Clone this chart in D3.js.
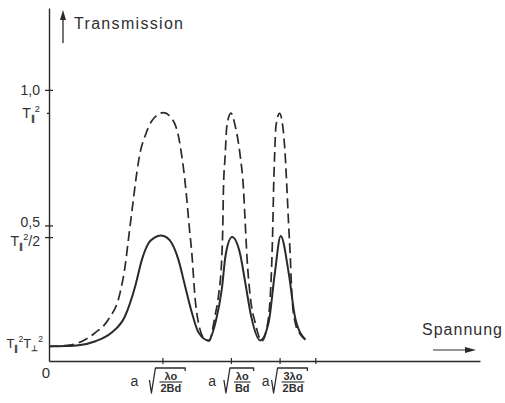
<!DOCTYPE html>
<html>
<head>
<meta charset="utf-8">
<script src="https://cdn.jsdelivr.net/npm/d3@7"></script>
<style>
  html, body { margin: 0; padding: 0; background: #fff; }
  svg { display: block; }
  text { font-family: "Liberation Sans", Arial, sans-serif; fill: #303030; }
</style>
</head>
<body>
<svg id="chart" width="505" height="403"></svg>
<script>
// Voltage in units of a·sqrt(λo/2Bd); transmission as a fraction of the incident light.
const solidVoltage = [0, 0.14, 0.26, 0.41, 0.55, 0.67, 0.76, 0.82, 0.88, 0.93, 0.985, 1.04, 1.08, 1.14, 1.20, 1.26, 1.32, 1.405,
  1.47, 1.524, 1.557, 1.614, 1.686, 1.73, 1.785, 1.862,
  1.936, 1.99, 2.043, 2.115, 2.17, 2.26];
const solidTransmission = [0.054, 0.055, 0.058, 0.073, 0.104, 0.165, 0.276, 0.375, 0.436, 0.455, 0.463, 0.455, 0.436, 0.375, 0.276, 0.178, 0.104, 0.076,
  0.146, 0.266, 0.39, 0.457, 0.393, 0.29, 0.16, 0.076,
  0.141, 0.32, 0.461, 0.32, 0.16, 0.079];

const dashedVoltage = [0, 0.14, 0.259, 0.406, 0.523, 0.627, 0.671, 0.700, 0.744, 0.774, 0.803, 0.847, 0.906, 1.009, 1.097,
  1.141, 1.171, 1.194, 1.215, 1.236, 1.259, 1.289, 1.324, 1.377, 1.412,
  1.465, 1.494, 1.524, 1.533, 1.538, 1.553, 1.568, 1.604, 1.642, 1.686, 1.715, 1.730, 1.745, 1.774, 1.818, 1.877,
  1.933, 1.951, 1.966, 1.974, 1.980, 1.989, 2.001, 2.033, 2.061, 2.083, 2.098, 2.112, 2.127, 2.142, 2.171, 2.215, 2.260];
const dashedTransmission = [0.054, 0.057, 0.067, 0.104, 0.153, 0.252, 0.350, 0.448, 0.596, 0.694, 0.768, 0.830, 0.885, 0.916, 0.885,
  0.830, 0.756, 0.682, 0.596, 0.497, 0.399, 0.227, 0.128, 0.079, 0.074,
  0.17, 0.239, 0.387, 0.51, 0.633, 0.756, 0.866, 0.914, 0.866, 0.756, 0.633, 0.51, 0.387, 0.239, 0.141, 0.074,
  0.153, 0.239, 0.387, 0.510, 0.633, 0.756, 0.866, 0.913, 0.866, 0.756, 0.633, 0.510, 0.387, 0.239, 0.141, 0.098, 0.079];

// Axis ticks
const yTickValues = [1.0, 0.915, 0.5, 0.457];
const yTickLabels = ["1,0", "T∥²", "0,5", "T∥²/2"];
const baseLevel = 0.054;
const baseLabel = "T∥²T⊥²";
const xTickValues = [1, 1.604, 2.033, 2.348];
const xTickPrefix = ["a", "a", "a"];
const xTickNumerators = ["λo", "λo", "3λo"];
const xTickDenominators = ["2Bd", "Bd", "2Bd"];
const yAxisTitle = "Transmission";
const xAxisTitle = "Spannung";
const originLabel = "0";

const ink = "#2a2a2a";
const svg = d3.select("#chart");

const x = d3.scaleLinear().domain([0, 3.8]).range([49, 480]);
const y = d3.scaleLinear().domain([0, 1.302]).range([361, 8]);

// Text with subscript (∥, ⊥) and superscript (²) pieces
function richText(sel, str, size) {
  let shift = 0;
  for (const ch of str) {
    let target = 0, fs = size, t = ch;
    if (ch === "∥" || ch === "⊥") { target = 3; fs = size * 0.6; }
    else if (ch === "²") { target = -6; fs = size * 0.66; t = "2"; }
    sel.append("tspan").attr("dy", target - shift).style("font-size", fs + "px")
      .style("font-weight", (ch === "∥" || ch === "⊥") ? "bold" : null).text(t);
    shift = target;
  }
}

// Y axis
const yAxis = svg.append("g").attr("transform", `translate(${x(0)},0)`)
  .call(d3.axisLeft(y).tickValues(yTickValues).tickFormat("").tickSizeOuter(0).tickSizeInner(4));
yAxis.select(".domain").attr("stroke", ink).attr("stroke-width", 1.4);
yAxis.selectAll(".tick line").attr("stroke", ink).attr("stroke-width", 1.3)
  .attr("x1", (d) => d === 0.915 ? 1 : 4).attr("x2", (d) => d === 0.915 ? -2 : -4);

// X axis
const xAxis = svg.append("g").attr("transform", `translate(0,${y(0)})`)
  .call(d3.axisBottom(x).tickValues(xTickValues).tickFormat("").tickSizeOuter(0).tickSizeInner(3));
xAxis.select(".domain").attr("stroke", ink).attr("stroke-width", 1.3);
xAxis.selectAll(".tick line").attr("stroke", ink).attr("stroke-width", 1.2).attr("y1", -3).attr("y2", 3);

// Y tick labels (the two lower labels sit close together, so they are nudged apart)
const yLabelDrop = [5, 5, 2, 9];
yTickValues.forEach((v, i) => {
  const t = svg.append("text").attr("x", x(0) - 9).attr("y", y(v) + yLabelDrop[i])
    .attr("text-anchor", "end").style("font-size", "14px");
  richText(t, yTickLabels[i], 14);
});
const bl = svg.append("text").attr("x", x(0) - 6).attr("y", y(baseLevel) + 2)
  .attr("text-anchor", "end").style("font-size", "13px");
richText(bl, baseLabel, 13);

svg.append("text").attr("x", x(0) - 3).attr("y", y(0) + 17).attr("text-anchor", "middle")
  .style("font-size", "15px").text(originLabel);

// X tick labels: a·sqrt(num/den)
const labelLayout = [{ shift: -7, gap: 11 }, { shift: -1, gap: 8 }, { shift: -2, gap: 2 }];
xTickNumerators.forEach((num, i) => {
  const apex = x(xTickValues[i]) + labelLayout[i].shift;
  const top = y(0) + 7, bottom = y(0) + 32;
  const g = svg.append("g");
  const nT = g.append("text").attr("text-anchor", "middle").attr("y", top + 12)
    .style("font-size", "11px").style("font-weight", "bold").text(num);
  const dT = g.append("text").attr("text-anchor", "middle").attr("y", top + 24)
    .style("font-size", "11px").style("font-weight", "bold").text(xTickDenominators[i]);
  const w = Math.max(nT.node().getComputedTextLength(), dT.node().getComputedTextLength());
  const cx = apex + 5 + w / 2;
  nT.attr("x", cx); dT.attr("x", cx);
  g.append("line").attr("x1", cx - w / 2 - 1).attr("x2", cx + w / 2 + 1)
    .attr("y1", top + 14).attr("y2", top + 14).attr("stroke", ink).attr("stroke-width", 1.1);
  const end = apex + w + 9;
  g.append("path")
    .attr("d", `M${apex - 6},${top + 12} L${apex - 4},${bottom} L${apex},${top} L${end},${top} L${end},${top + 3}`)
    .attr("fill", "none").attr("stroke", ink).attr("stroke-width", 1.3).attr("stroke-linejoin", "round");
  g.append("text").attr("x", apex - 6 - labelLayout[i].gap).attr("y", top + 18)
    .attr("text-anchor", "end").style("font-size", "14px").text(xTickPrefix[i]);
});

// Curves
const line = d3.line().x((d) => x(d[0])).y((d) => y(d[1])).curve(d3.curveMonotoneX);
svg.append("path").datum(d3.zip(dashedVoltage, dashedTransmission))
  .attr("d", line).attr("fill", "none").attr("stroke", ink).attr("stroke-width", 1.7)
  .attr("stroke-dasharray", "10,5");
svg.append("path").datum(d3.zip(solidVoltage, solidTransmission))
  .attr("d", line).attr("fill", "none").attr("stroke", ink).attr("stroke-width", 2);

// Axis titles with arrows
svg.append("line").attr("x1", 63).attr("x2", 63).attr("y1", 43).attr("y2", 18)
  .attr("stroke", ink).attr("stroke-width", 1.3);
svg.append("path").attr("d", "M60,20 L63,10 L66,20 Z").attr("fill", ink);
svg.append("text").attr("x", 74).attr("y", 29).style("font-size", "16px")
  .attr("textLength", 109).attr("lengthAdjust", "spacing").text(yAxisTitle);

svg.append("text").attr("x", 422).attr("y", 335).style("font-size", "16px")
  .attr("textLength", 80).attr("lengthAdjust", "spacing").text(xAxisTitle);
svg.append("line").attr("x1", 433).attr("x2", 468).attr("y1", 350).attr("y2", 350)
  .attr("stroke", ink).attr("stroke-width", 1.2);
svg.append("path").attr("d", "M465,347 L476,350 L465,353 Z").attr("fill", ink);
</script>
</body>
</html>
